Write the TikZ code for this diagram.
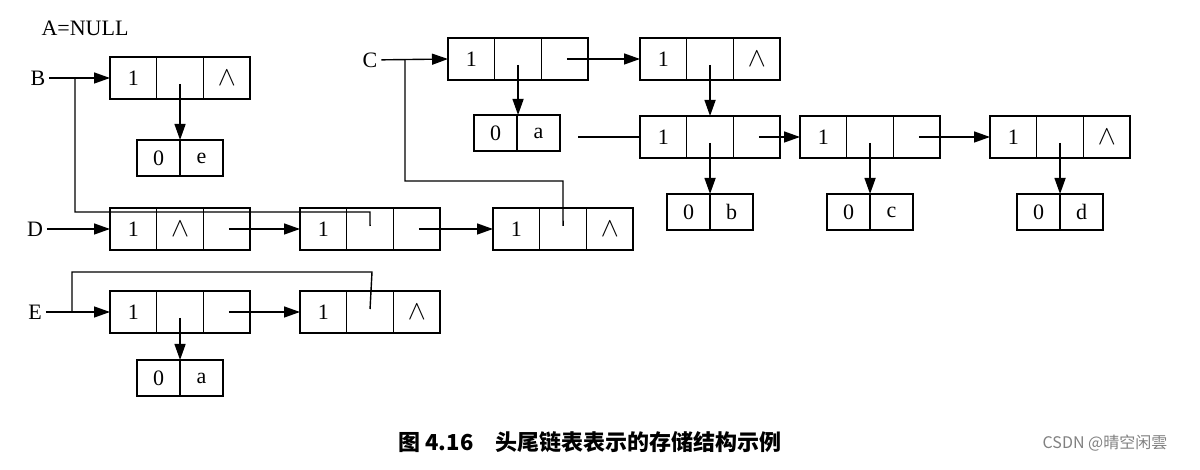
\documentclass[tikz,border=0pt]{standalone}
\usepackage{fontspec}
\setmainfont{Liberation Serif}
\newfontfamily\cjk{Noto Sans CJK SC}
\usetikzlibrary{arrows.meta}
\tikzset{
 cell/.style={draw,minimum width=46.7pt,minimum height=42pt,inner sep=0pt,outer sep=0pt,font=\fontsize{22}{26}\selectfont},
 acell/.style={draw,minimum width=43pt,minimum height=36pt,inner sep=0pt,outer sep=0pt,font=\fontsize{22}{26}\selectfont},
 ptr/.style={-{Triangle[length=16pt,width=11pt]}},
 lbl/.style={font=\fontsize{22}{26}\selectfont},
}
\newcommand\lst[6]{%
 \node[cell,anchor=west] (#1a) at (#2,#3) {#4};
 \node[cell,anchor=west] (#1b) at (#1a.east) {#5};
 \node[cell,anchor=west] (#1c) at (#1b.east) {#6};}
\newcommand\atm[5]{%
 \node[acell,anchor=west] (#1a) at (#2,#3) {#4};
 \node[acell,anchor=west] (#1b) at (#1a.east) {#5};}
\newcommand\nil{\scalebox{1.3}{$\wedge$}}
\newcommand\dn[2]{\draw[ptr] ([yshift=-6]#1.center) -- (#1.center |- #2.north);}
\begin{document}
\begin{tikzpicture}[x=1pt,y=-1pt,line width=1.4pt]
\useasboundingbox (0,0) rectangle (1200,470);
\node[lbl] (A) at (85,28) {A=NULL};
% B
\node[lbl] (B) at (38,78) {B};
\lst{b}{110}{78}{1}{}{\nil}
\atm{be}{137}{158}{0}{e}
\draw[ptr] (B) -- (ba.west);
\dn{bb}{bea}
% C
\node[lbl] (C) at (370,60) {C};
\lst{c}{448}{59}{1}{}{}
\lst{cc}{640}{59}{1}{}{\nil}
\atm{xa}{474}{133}{0}{a}
\lst{r}{640}{137}{1}{}{}
\lst{s}{800}{137}{1}{}{}
\lst{t}{990}{137}{1}{}{\nil}
\atm{ob}{667}{212}{0}{b}
\atm{oc}{827}{212}{0}{c}
\atm{od}{1017}{212}{0}{d}
\draw[ptr] (C) -- (ca.west);
\dn{cb}{xaa}
\draw[ptr] ([xshift=2]cc.center) -- (cca.west);
\dn{ccb}{rb}
\coordinate (rin) at (578,137);
\draw (rin) -- (ra.west);
\dn{rb}{oba}
\draw[ptr] ([xshift=2]rc.center) -- (sa.west);
\dn{sb}{oca}
\draw[ptr] ([xshift=2]sc.center) -- (ta.west);
\dn{tb}{oda}
% D
\node[lbl] (D) at (35,229) {D};
\lst{d}{110}{229}{1}{\nil}{}
\lst{dd}{300}{229}{1}{}{}
\lst{ddd}{493}{229}{1}{}{\nil}
\draw[ptr] (D) -- (da.west);
\draw[ptr] ([xshift=2]dc.center) -- (dda.west);
\draw[ptr] ([xshift=2]ddc.center) -- (ddda.west);
\coordinate (bj) at (75,78);
\draw (bj) |- (370,212) -- ([yshift=3]ddb.center);
\coordinate (cj) at (405,60);
\draw (cj) |- (563,181) -- ([yshift=3]dddb.center);
% E
\node[lbl] (E) at (35,312) {E};
\lst{e}{110}{312}{1}{}{}
\lst{ee}{300}{312}{1}{}{\nil}
\atm{ea}{137}{378}{0}{a}
\draw[ptr] (E) -- (ea.west);
\dn{eb}{eaa}
\draw[ptr] ([xshift=2]ec.center) -- (eea.west);
\coordinate (ej) at (72,312);
\draw (ej) |- (372,272) -- ([yshift=3]eeb.center);
% caption
\node[font=\cjk\bfseries\fontsize{22}{26}\selectfont] (cap) at (590,442) {图 4.16\quad 头尾链表表示的存储结构示例};
\node[font=\cjk\fontsize{16}{18}\selectfont,text=gray] (wm) at (1105,443) {CSDN @晴空闲雲};
\end{tikzpicture}
\end{document}
